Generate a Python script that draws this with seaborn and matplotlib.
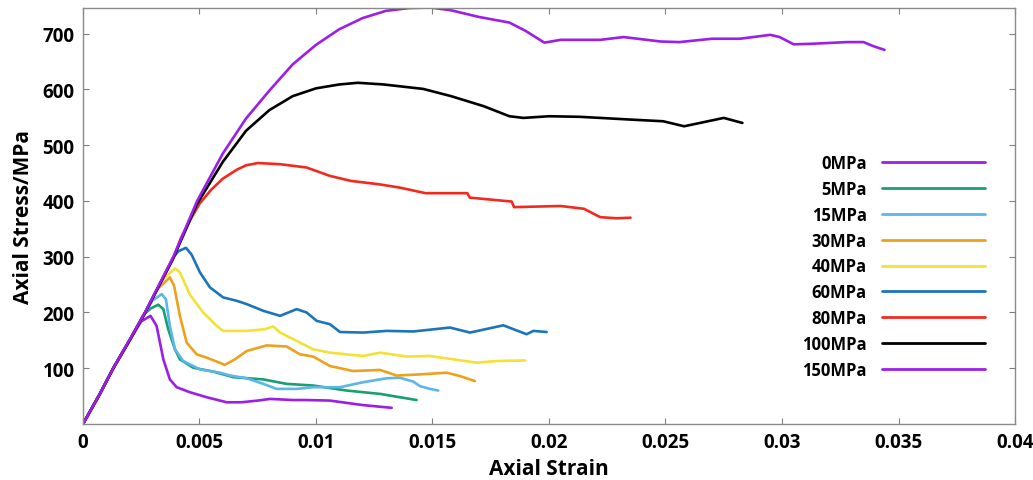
import matplotlib
matplotlib.use("Agg")
import matplotlib.pyplot as plt
import seaborn as sns
import pandas as pd

# ---- data ----
labels = ["0MPa", "5MPa", "15MPa", "30MPa", "40MPa", "60MPa", "80MPa", "100MPa", "150MPa"]
colors = ["#9b1ee9", "#17a071", "#5bb6ea", "#eca21c", "#f2e234", "#1c74b9", "#f22a1e", "#000000", "#9b1ee9"]

strain_0 = [0, 0.0007, 0.0013, 0.002, 0.0025, 0.0029, 0.00316, 0.00345, 0.00373, 0.00402, 0.00459, 0.00531, 0.00617, 0.0068, 0.0075, 0.00803, 0.00903, 0.0096, 0.0106, 0.0113, 0.012, 0.01325]
stress_0 = [0, 52, 100, 150, 184, 194, 176, 116, 80, 66, 57, 48, 39, 39, 42, 45, 43, 43, 42, 38, 34, 29]

strain_5 = [0, 0.0007, 0.0013, 0.002, 0.0026, 0.0029, 0.00323, 0.00345, 0.00366, 0.00395, 0.00416, 0.00473, 0.00559, 0.00645, 0.00774, 0.00874, 0.00988, 0.01132, 0.01275, 0.0136, 0.01432]
stress_5 = [0, 52, 100, 150, 196, 207, 214, 206, 170, 134, 116, 101, 94, 84, 80, 72, 69, 60, 54, 48, 43]

strain_15 = [0, 0.0007, 0.0013, 0.002, 0.00266, 0.003, 0.00338, 0.00356, 0.00373, 0.00395, 0.0043, 0.00502, 0.00588, 0.00631, 0.00703, 0.00774, 0.00831, 0.00917, 0.00988, 0.01103, 0.01203, 0.01303, 0.0136, 0.01418, 0.01446, 0.01489, 0.01525]
stress_15 = [0, 52, 100, 150, 199, 222, 233, 224, 176, 134, 113, 98, 92, 87, 82, 72, 63, 63, 66, 66, 75, 82, 83, 76, 68, 63, 60]

strain_30 = [0, 0.0007, 0.0013, 0.002, 0.00266, 0.0032, 0.00373, 0.00391, 0.00416, 0.00445, 0.00488, 0.00531, 0.00574, 0.00609, 0.00652, 0.00703, 0.00788, 0.00874, 0.00931, 0.00988, 0.0106, 0.0116, 0.01275, 0.01346, 0.01446, 0.01561, 0.01618, 0.01682]
stress_30 = [0, 52, 100, 150, 199, 242, 263, 248, 194, 146, 125, 119, 112, 106, 116, 131, 141, 139, 125, 121, 104, 95, 97, 87, 89, 92, 86, 77]

strain_40 = [0, 0.0007, 0.0013, 0.002, 0.00266, 0.0034, 0.00395, 0.00416, 0.00459, 0.00516, 0.00574, 0.00602, 0.00703, 0.0078, 0.00817, 0.00846, 0.00917, 0.00988, 0.0106, 0.01203, 0.01275, 0.01389, 0.01489, 0.01589, 0.0169, 0.01776, 0.01897]
stress_40 = [0, 52, 100, 150, 199, 258, 279, 272, 232, 200, 176, 167, 167, 170, 175, 164, 149, 134, 128, 122, 128, 121, 122, 116, 110, 113, 114]

strain_60 = [0, 0.0007, 0.0013, 0.002, 0.00266, 0.00388, 0.0041, 0.00442, 0.00466, 0.00502, 0.00545, 0.00602, 0.0066, 0.00703, 0.00774, 0.00846, 0.00917, 0.0096, 0.01003, 0.0106, 0.01103, 0.01203, 0.01303, 0.01418, 0.01575, 0.01661, 0.01804, 0.01904, 0.01933, 0.0199]
stress_60 = [0, 52, 100, 150, 199, 299, 310, 316, 304, 272, 245, 227, 221, 215, 203, 194, 206, 200, 185, 179, 165, 164, 167, 166, 173, 164, 177, 161, 167, 165]

strain_80 = [0, 0.0007, 0.0013, 0.002, 0.00266, 0.00388, 0.0042, 0.0046, 0.005, 0.0055, 0.006, 0.0066, 0.007, 0.0075, 0.00846, 0.0096, 0.0106, 0.0115, 0.0127, 0.0136, 0.0147, 0.0165, 0.0166, 0.0184, 0.0185, 0.0205, 0.0215, 0.0222, 0.0229, 0.0235]
stress_80 = [0, 52, 100, 150, 199, 297, 333, 366, 395, 420, 440, 456, 464, 468, 466, 460, 445, 436, 430, 424, 414, 414, 406, 399, 389, 391, 386, 371, 369, 370]

strain_100 = [0, 0.0007, 0.0013, 0.002, 0.00266, 0.00388, 0.0049, 0.006, 0.007, 0.008, 0.009, 0.010, 0.011, 0.0118, 0.0129, 0.0146, 0.0158, 0.0172, 0.0183, 0.0189, 0.02, 0.0213, 0.0222, 0.0235, 0.0249, 0.0258, 0.0275, 0.0283]
stress_100 = [0, 52, 100, 150, 199, 298, 395, 470, 526, 563, 588, 602, 609, 612, 609, 601, 588, 570, 552, 549, 552, 551, 549, 546, 543, 534, 549, 540]

strain_150 = [0, 0.0007, 0.0013, 0.002, 0.00266, 0.00388, 0.0049, 0.006, 0.007, 0.008, 0.009, 0.010, 0.011, 0.012, 0.013, 0.014, 0.0149, 0.0158, 0.017, 0.0183, 0.019, 0.0198, 0.0205, 0.0222, 0.0232, 0.0248, 0.0256, 0.027, 0.0282, 0.0295, 0.0299, 0.0305, 0.0313, 0.0328, 0.0335, 0.0339, 0.0344]
stress_150 = [0, 52, 100, 151, 200, 300, 400, 485, 548, 598, 645, 680, 708, 728, 741, 746, 747, 742, 730, 720, 705, 684, 689, 689, 694, 686, 685, 691, 691, 698, 694, 681, 682, 685, 685, 678, 671]

x_ticks = [0, 0.005, 0.01, 0.015, 0.02, 0.025, 0.03, 0.035, 0.04]
x_tick_labels = ["0", "0.005", "0.01", "0.015", "0.02", "0.025", "0.03", "0.035", "0.04"]
y_ticks = [100, 200, 300, 400, 500, 600, 700]

series = [(strain_0, stress_0), (strain_5, stress_5), (strain_15, stress_15), (strain_30, stress_30),
          (strain_40, stress_40), (strain_60, stress_60), (strain_80, stress_80), (strain_100, stress_100),
          (strain_150, stress_150)]

rows = []
for lab, (xs, ys) in zip(labels, series):
    for x, y in zip(xs, ys):
        rows.append({"strain": x, "stress": y, "curve": lab})
df = pd.DataFrame(rows)

sns.set_theme(style="white")
plt.rcParams["font.family"] = ["Open Sans", "DejaVu Sans"]
plt.rcParams["font.weight"] = "bold"
plt.rcParams["text.color"] = "black"
plt.rcParams["axes.labelcolor"] = "black"

fig = plt.figure(figsize=(10.33, 4.81), dpi=100)
ax = fig.add_axes([0.0803, 0.1164, 0.9023, 0.8659])

sns.lineplot(data=df, x="strain", y="stress", hue="curve", hue_order=labels,
             palette=colors, sort=False, estimator=None, units="curve",
             linewidth=1.9, ax=ax, legend=False)

handles = [plt.Line2D([], [], color=c, lw=2.0) for c in colors]
leg = ax.legend(handles, labels, loc="upper right", bbox_to_anchor=(0.968, 0.648),
                frameon=False, markerfirst=False, handlelength=6.2, handletextpad=0.9,
                labelspacing=0.47, borderpad=0, borderaxespad=0,
                prop={"family": "Open Sans", "weight": "bold", "size": 12})
for t in leg.get_texts():
    t.set_color("black")

ax.set_xlim(0, 0.04)
ax.set_ylim(0, 747)
ax.set_xticks(x_ticks)
ax.set_xticklabels(x_tick_labels)
ax.set_yticks(y_ticks)
ax.tick_params(axis="both", which="both", direction="in", length=4, width=0.8,
               colors="#808080", labelcolor="black", labelsize=13.5,
               top=True, right=True, bottom=True, left=True, pad=6)
for lbl in ax.get_xticklabels() + ax.get_yticklabels():
    lbl.set_fontweight("bold")
for sp in ax.spines.values():
    sp.set_color("#8a8a8a")
    sp.set_linewidth(1.0)

ax.set_xlabel("Axial Strain", fontsize=15, fontweight="bold", labelpad=4, color="black")
ax.set_ylabel("Axial Stress/MPa", fontsize=15, fontweight="bold", labelpad=6, color="black")

fig.savefig("out.png", dpi=100)
